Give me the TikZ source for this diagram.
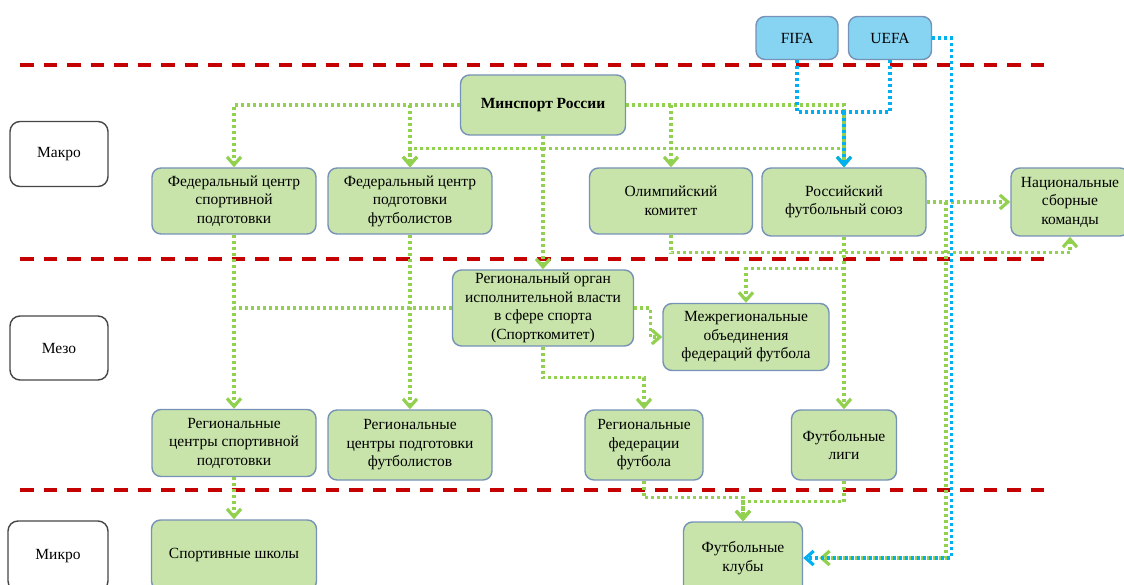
\documentclass[tikz,border=0pt]{standalone}
\usepackage{fontspec}
\setmainfont{Liberation Serif}
\usetikzlibrary{arrows.meta,calc}

\definecolor{boxgreen}{RGB}{200,228,170}
\definecolor{boxblue}{RGB}{135,212,242}
\definecolor{boxedge}{RGB}{118,146,182}
\definecolor{lvledge}{RGB}{70,70,70}
\definecolor{linkgreen}{RGB}{146,208,80}
\definecolor{linkblue}{RGB}{0,176,240}
\definecolor{splitred}{RGB}{196,0,0}

\begin{document}
\begin{tikzpicture}[x=1pt, y=-1pt, >={Straight Barb[length=8pt,width=14pt]},
  font=\fontsize{15.5}{18.5}\selectfont]

  \tikzstyle{org}=[draw=boxedge, fill=boxgreen, rounded corners=9pt,
    line width=1.4pt, align=center, inner sep=1pt]
  \tikzstyle{intl}=[org, fill=boxblue]
  \tikzstyle{level}=[draw=lvledge, fill=white, rounded corners=10pt,
    line width=1.4pt]
  \tikzstyle{link}=[draw=linkgreen, line width=3.2pt,
    dash pattern=on 3pt off 3pt, ->]
  \tikzstyle{blink}=[link, draw=linkblue]
  \tikzstyle{split}=[draw=splitred, line width=3.8pt,
    dash pattern=on 13.5pt off 10pt]

  \useasboundingbox (0,0) rectangle (1124,585);

  % level separators
  \draw[split] (20,65) -- (1045,65);
  \draw[split] (20,259) -- (1045,259);
  \draw[split] (20,490) -- (1045,490);

  % levels
  \node[level, minimum width=98, minimum height=65] (makro) at (59,154) {Макро};
  \node[level, minimum width=98, minimum height=64] (mezo) at (59,348) {Мезо};
  \node[level, minimum width=100, minimum height=70] (mikro) at (58,556) {Микро};

  % international
  \node[intl, minimum width=82, minimum height=43] (fifa) at (797,38) {FIFA};
  \node[intl, minimum width=83, minimum height=43] (uefa) at (890,38) {UEFA};

  % macro
  \node[org, minimum width=165, minimum height=60] (minsport) at (543,105)
    {\bfseries Минспорт России};
  \node[org, minimum width=164, minimum height=66] (fcsp) at (234,201)
    {Федеральный центр\\спортивной\\подготовки};
  \node[org, minimum width=164, minimum height=66] (fcpf) at (410,201)
    {Федеральный центр\\подготовки\\футболистов};
  \node[org, minimum width=163, minimum height=66] (olimp) at (671,201)
    {Олимпийский\\комитет};
  \node[org, minimum width=164, minimum height=68] (rfs) at (844,202)
    {Российский\\футбольный союз};
  \node[org, minimum width=118, minimum height=68] (nsb) at (1070,202)
    {Национальные\\сборные\\команды};

  % meso
  \node[org, minimum width=181, minimum height=76] (regorg) at (543,308)
    {Региональный орган\\исполнительной власти\\в сфере спорта\\(Спорткомитет)};
  \node[org, minimum width=166, minimum height=67] (mezhreg) at (746,337)
    {Межрегиональные\\объединения\\федераций футбола};
  \node[org, minimum width=164, minimum height=67] (rcsp) at (234,443)
    {Региональные\\центры спортивной\\подготовки};
  \node[org, minimum width=164, minimum height=70] (rcpf) at (410,445)
    {Региональные\\центры подготовки\\футболистов};
  \node[org, minimum width=118, minimum height=70] (regfed) at (644,445)
    {Региональные\\федерации\\футбола};
  \node[org, minimum width=105, minimum height=70] (fliga) at (844,445)
    {Футбольные\\лиги};

  % micro
  \node[org, minimum width=165, minimum height=70] (sshk) at (234,555)
    {Спортивные школы};
  \node[org, minimum width=119, minimum height=72] (fklub) at (743,558)
    {Футбольные\\клубы};

  % junctions
  \coordinate (hub) at ($(minsport.south)+(0,13)$);
  \coordinate (bj) at (844,112);
  \coordinate (gtop) at (946,202);

  % links from Minsport
  \draw[link] (minsport.west) -| (fcsp.north);
  \draw[link] (fcpf.north |- minsport.west) -- (fcpf.north);
  \draw[link] (minsport.south) -- (regorg.north);
  \draw[link] (hub) -| (fcpf.north);
  \draw[link] (hub) -| (rfs.north);
  \draw[link] (minsport.east) -| (rfs.north);
  \draw[link] (olimp.north |- minsport.east) -- (olimp.north);

  % macro to meso
  \draw[link] (fcsp.south) -- (rcsp.north);
  \draw[link] (fcpf.south) -- (rcpf.north);
  \draw[link] (rfs.east) -- (nsb.west);
  \draw[link] (olimp.south) -- ++(0,18) -| (nsb.south);
  \draw[link] (rfs.south) -- (fliga.north);
  \draw[link] ($(rfs.south)+(0,32)$) -| (mezhreg.north);
  \draw[link] (gtop) |- ($(fklub.east)+(16,0)$);

  % regional body
  \draw[link, -] (regorg.west) -- (regorg.west -| fcsp.south);
  \draw[link] (regorg.east) -- ++(16,0) |- (mezhreg.west);
  \draw[link] (regorg.south) -- ++(0,31) -| (regfed.north);

  % meso to micro
  \draw[link] (rcsp.south) -- (sshk.north);
  \draw[link] (regfed.south) -- ++(0,17) -| (fklub.north);
  \draw[link] (fliga.south) -- ++(0,21) -| (fklub.north);

  % FIFA / UEFA
  \draw[blink, -] (fifa.south) |- (bj);
  \draw[blink, -] (uefa.south) |- (bj);
  \draw[blink] (bj) -- (rfs.north);
  \draw[blink] (uefa.east) -- ++(19,0) |- (fklub.east);

\end{tikzpicture}
\end{document}
